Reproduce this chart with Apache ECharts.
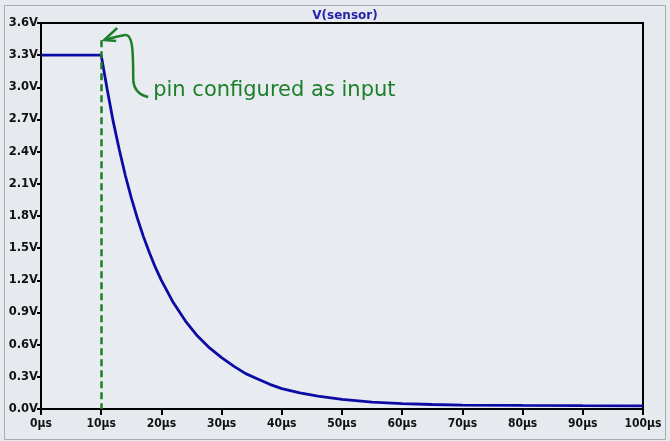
<!DOCTYPE html>
<html><head><meta charset="utf-8">
<script src="https://cdn.jsdelivr.net/npm/echarts@6/dist/echarts.min.js"></script>
<style>html,body{margin:0;padding:0;background:#e6e9ee;}#c{width:670px;height:441px;}</style>
</head><body><div id="c"></div>
<script>
var title = 'V(sensor)';
var timeUs = [0, 10, 11, 12, 13, 14, 15, 16, 17, 18, 19, 20, 22, 24, 26, 28, 30, 32, 34, 36, 38, 40, 43, 46, 50, 55, 60, 65, 70, 80, 90, 100];
var voltage = [3.3, 3.3, 2.98, 2.68, 2.42, 2.18, 1.97, 1.78, 1.61, 1.46, 1.32, 1.20, 0.99, 0.82, 0.68, 0.57, 0.48, 0.40, 0.33, 0.28, 0.23, 0.19, 0.15, 0.12, 0.09, 0.065, 0.05, 0.042, 0.037, 0.033, 0.031, 0.03];
var markerTime = 10;
var annotation = 'pin configured as input';

var chart = echarts.init(document.getElementById('c'), null, {renderer: 'canvas'});
var green = '#1c7f2a';
var pts = timeUs.map(function (t, i) { return [t, voltage[i]]; });
var option = {
  animation: false,
  backgroundColor: '#e6e9ee',
  title: {
    text: title, left: 340, top: 5, textAlign: 'center',
    textStyle: {color: '#2424a8', fontSize: 12, fontWeight: 'bold', fontFamily: 'DejaVu Sans'}
  },
  grid: {left: 41, right: 27, top: 23, bottom: 32, show: true, borderColor: '#000', borderWidth: 2, backgroundColor: '#e8ebf0'},
  xAxis: {
    type: 'value', min: 0, max: 100, interval: 10,
    axisLine: {lineStyle: {color: '#000', width: 2}},
    axisTick: {length: 6, lineStyle: {color: '#000', width: 2}},
    splitLine: {show: false},
    axisLabel: {margin: 9, color: '#111', fontSize: 12, fontWeight: 'bold', fontFamily: 'DejaVu Sans Condensed, DejaVu Sans',
      formatter: function (v) { return v + 'μs'; }}
  },
  yAxis: {
    type: 'value', min: 0, max: 3.6, interval: 0.3,
    axisLine: {lineStyle: {color: '#000', width: 2}},
    axisTick: {length: 4, lineStyle: {color: '#000', width: 2}},
    splitLine: {show: false},
    axisLabel: {margin: 3, color: '#111', fontSize: 11.5, fontWeight: 'bold', fontFamily: 'DejaVu Sans',
      formatter: function (v) { return v.toFixed(1) + 'V'; }}
  },
  series: [{
    type: 'line', data: pts, showSymbol: false, smooth: false, z: 3,
    lineStyle: {color: '#0c0ca4', width: 2.8},
    markLine: {
      silent: true, symbol: ['none', 'none'], z: 4,
      label: {show: false},
      lineStyle: {color: green, type: [7, 4], width: 2.5},
      data: [[{coord: [markerTime, 3.44]}, {coord: [markerTime, 0]}]]
    }
  }]
};
chart.setOption(option);

var a = chart.convertToPixel({gridIndex: 0}, [markerTime, 3.46]);
var ax = a[0], ay = a[1];
var gs = {fill: 'none', stroke: green, lineWidth: 2.5};
chart.setOption({
  graphic: [
    {type: 'rect', left: 2, top: 3, shape: {width: 661, height: 434}, silent: true, z: -10,
      style: {fill: 'none', stroke: '#a8adb3', lineWidth: 1}},
    {type: 'bezierCurve', silent: true, z: 10,
      shape: {x1: ax + 47, y1: ay + 59, cpx1: ax + 38, cpy1: ay + 57, cpx2: ax + 32, cpy2: ay + 52, x2: ax + 32, y2: ay + 40},
      style: gs},
    {type: 'bezierCurve', silent: true, z: 10,
      shape: {x1: ax + 32, y1: ay + 40, cpx1: ax + 32, cpy1: ay + 10, cpx2: ax + 31, cpy2: ay - 4, x2: ax + 24, y2: ay - 3},
      style: gs},
    {type: 'bezierCurve', silent: true, z: 10,
      shape: {x1: ax + 24, y1: ay - 3, cpx1: ax + 17, cpy1: ay - 2, cpx2: ax + 10, cpy2: ay, x2: ax + 3, y2: ay + 2},
      style: gs},
    {type: 'polyline', silent: true, z: 10,
      shape: {points: [[ax + 16, ay - 10], [ax + 3, ay + 2], [ax + 15, ay + 3]]},
      style: gs},
    {type: 'text', silent: true, z: 10, x: ax + 52, y: ay + 53,
      style: {text: annotation, fill: green, fontSize: 21, fontFamily: 'DejaVu Sans', textVerticalAlign: 'middle', textAlign: 'left'}}
  ]
});
</script></body></html>
